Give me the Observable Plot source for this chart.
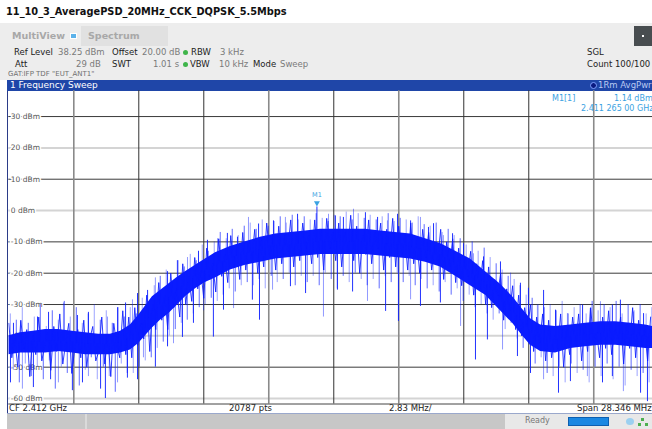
<!DOCTYPE html>
<html>
<head>
<meta charset="utf-8">
<script src="https://cdn.jsdelivr.net/npm/d3@7"></script>
<script src="https://cdn.jsdelivr.net/npm/@observablehq/plot@0.6"></script>
<style>
  html, body { margin: 0; padding: 0; width: 652px; height: 429px; overflow: hidden; background: #fff;
    font-family: "DejaVu Sans", Verdana, sans-serif; }
  .abs { position: absolute; white-space: nowrap; line-height: 1; }
  .lbl { color: #222; font-size: 8.5px; }
  .val { color: #7a7a7a; font-size: 8.5px; }
  .dot { position: absolute; width: 5px; height: 5px; border-radius: 50%; background: #3fb54a; }
  .mk { color: #3aa2e2; font-size: 8px; }
  .ft { color: #222; font-size: 8.5px; }
  #chart { position: absolute; left: 0; top: 0; z-index: 1; }
  .top { z-index: 2; }
</style>
</head>
<body>

<!-- title and instrument header -->
<div class="abs" style="left:6px;top:7px;font-weight:bold;font-size:9.8px;color:#111">11_10_3_AveragePSD_20MHz_CCK_DQPSK_5.5Mbps</div>
<div class="abs" style="left:0;top:23px;width:652px;height:57px;background:#ededed"></div>
<div class="abs" style="left:81px;top:26px;width:87px;height:20px;background:#e1e1e1"></div>
<div class="abs" style="left:12px;top:31px;font-weight:bold;font-size:9.5px;color:#a8a8a8">MultiView</div>
<div class="abs" style="left:70px;top:33px;width:5px;height:4px;background:#5cb2ea;border:1px solid #fff"></div>
<div class="abs" style="left:88px;top:31px;font-weight:bold;font-size:9.5px;color:#a8a8a8">Spectrum</div>
<div class="abs" style="left:634px;top:26px;width:18px;height:20px;background:#484d50"></div>
<div class="abs" style="left:642px;top:35px;width:2px;height:2px;background:#fff"></div>

<div class="abs lbl" style="left:14px;top:48px">Ref Level</div>
<div class="abs val" style="left:58px;top:48px">38.25 dBm</div>
<div class="abs lbl" style="left:112px;top:48px">Offset</div>
<div class="abs val" style="left:142px;top:48px">20.00 dB</div>
<div class="dot" style="left:183px;top:50px"></div>
<div class="abs lbl" style="left:191px;top:48px">RBW</div>
<div class="abs val" style="left:220px;top:48px">3 kHz</div>

<div class="abs lbl" style="left:15px;top:60px">Att</div>
<div class="abs val" style="left:76px;top:60px">29 dB</div>
<div class="abs lbl" style="left:112px;top:60px">SWT</div>
<div class="abs val" style="left:153px;top:60px">1.01 s</div>
<div class="dot" style="left:183px;top:62px"></div>
<div class="abs lbl" style="left:190px;top:60px">VBW</div>
<div class="abs val" style="left:219px;top:60px">10 kHz</div>
<div class="abs lbl" style="left:253px;top:60px">Mode</div>
<div class="abs val" style="left:280px;top:60px">Sweep</div>

<div class="abs" style="left:8px;top:71px;font-size:7px;color:#707070">GAT:IFP TDF "EUT_ANT1"</div>
<div class="abs lbl" style="left:587px;top:48px">SGL</div>
<div class="abs lbl" style="left:587px;top:60px">Count 100/100</div>

<!-- window title bar -->
<div class="abs" style="left:7px;top:80px;width:645px;height:11px;background:#1f46a8"></div>
<div class="abs" style="left:10px;top:81px;font-size:9px;color:#fff">1 Frequency Sweep</div>
<div class="abs" style="left:590px;top:82px;width:5px;height:5px;border-radius:50%;background:#0a1a80;border:1px solid #7fa0ff"></div>
<div class="abs" style="left:598px;top:81px;font-size:8.5px;color:#b9c9f2">1Rm AvgPwr</div>

<!-- marker readout -->
<div class="abs mk top" style="left:552px;top:95px">M1[1]</div>
<div class="abs mk top" style="left:614px;top:95px">1.14 dBm</div>
<div class="abs mk top" style="left:581px;top:105px">2.411 265 00 GHz</div>

<!-- plot frame edges and footer -->
<div class="abs" style="left:7px;top:91px;width:1px;height:322px;background:#2b3b88"></div>
<div class="abs" style="left:7px;top:413px;width:645px;height:1px;background:#9aa8cc"></div>
<div class="abs ft" style="left:9px;top:404px">CF 2.412 GHz</div>
<div class="abs ft" style="left:229px;top:404px">20787 pts</div>
<div class="abs ft" style="left:389px;top:404px">2.83 MHz/</div>
<div class="abs ft" style="left:577px;top:404px">Span 28.346 MHz</div>

<!-- status bar -->
<div class="abs" style="left:7px;top:414px;width:498px;height:15px;background:#c7c7c7"></div>
<div class="abs" style="left:85px;top:414px;width:2px;height:15px;background:#dadada"></div>
<div class="abs" style="left:505px;top:414px;width:147px;height:15px;background:#e8e8e8"></div>
<div class="abs" style="left:525px;top:417px;font-size:8px;color:#777">Ready</div>
<div class="abs" style="left:568px;top:417px;width:41px;height:9px;background:#1b88e2;border:1px solid #0d5fb0;box-sizing:border-box"></div>
<div class="abs" style="left:626px;top:418px;width:8px;height:7px;border-radius:50%;background:#9bd0f0"></div>
<div class="abs" style="left:641px;top:418px;width:3px;height:3px;background:#4caf50"></div>
<div class="abs" style="left:638px;top:423px;width:3px;height:3px;background:#4caf50"></div>
<div class="abs" style="left:645px;top:423px;width:3px;height:3px;background:#4caf50"></div>

<div id="chart"></div>

<script>
// Frequency axis: offset from CF 2.412 GHz in MHz, span 28.346 MHz, 2.83 MHz per division
const divisions = [-11.338, -8.504, -5.669, -2.835, 0, 2.835, 5.669, 8.504, 11.338];
// Level axis: dBm gridlines, reference level 38.25 dBm, 10 dB per division
const levels = [30, 20, 10, 0, -10, -20, -30, -40, -50, -60];

// Solid part of the averaged trace: upper and lower edge (dBm) at each frequency (MHz)
const envF  = [-14.17,-13.66,-13.10,-12.57,-12.00,-11.40,-10.83,-10.26,-9.74,-9.30,-8.87,-8.52,-8.21,-7.91,-7.56,-7.21,-6.86,-6.47,-6.03,-5.60,-5.16,-4.51,-3.85,-3.20,-2.54,-1.89,-1.23,-0.58,0.07,0.73,1.38,2.04,2.69,3.35,4.00,4.65,5.31,5.96,6.62,7.27,7.80,8.23,8.58,9.02,9.67,10.33,10.98,11.64,12.29,12.95,13.60,13.90];
const envHi = [-40,-39,-38.5,-38,-38,-38.5,-39,-39.5,-39.5,-38.5,-36.5,-33.5,-30.5,-27.5,-25.5,-23.5,-21.5,-19.5,-17.5,-15.5,-13.5,-11.5,-10,-8.5,-7.5,-7,-6.5,-6,-6,-6,-6,-6.5,-7,-7.5,-9,-10.5,-13,-15.5,-19.5,-23.5,-27.5,-31.5,-34.5,-36.5,-37,-36.5,-36,-35.5,-35.5,-36,-36.5,-37];
const envLo = [-46,-45.5,-45.5,-45.5,-45,-45.5,-46,-46,-46,-45.5,-44.5,-42.5,-40,-37.5,-35,-33,-30.5,-27.5,-25,-23,-21.5,-19,-17.5,-16.5,-15.5,-15,-14.5,-14,-14,-14,-14,-14.5,-15,-15.5,-16.5,-18,-21,-24,-27,-32,-36,-40,-43,-45,-45.5,-44,-43.5,-43,-43,-43.5,-44,-44];

// Trace samples (dBm) every 0.1308 MHz from the left edge of the display
const sampleStart = -14.173;
const sampleStep = 0.1308;
const samples = [
  -36,-47,-41,-50,-35,-44,-38,-53,-40,-46,
  -34,-48,-43,-39,-51,-37,-45,-33,-49,-42,
  -36,-52,-44,-38,-47,-35,-50,-41,-37,-48,
  -45,-34,-49,-40,-53,-36,-43,-47,-32,-46,
  -34,-47,-31,-43,-36,-41,-27,-45,-30,-38,
  -23,-35,-27,-38,-20,-31,-25,-34,-17,-30,
  -21,-29,-15,-25,-19,-28,-12,-22,-17,-26,
  -9,-21,-14,-23,-8,-18,-12,-22,-7,-19,
  -10,-16,-6,-20,-9,-18,-4,-15,-8,-19,
  -5,-17,-8,-13,-3,-18,-7,-16,-4,-12,
  -8,-17,-3,-15,-6,-19,-2.5,-12,-7,-16,
  -4,-18,-7,-13,-1.5,-16,-5,-20,-8,-14,
  -3,-17,-7,-12,-4,-19,-6,-15,-2.5,-18,
  -5,-14,-8,-19,-4,-17,-9,-20,-6,-15,
  -7,-19,-11,-16,-6,-22,-10,-18,-9,-23,
  -12,-24,-15,-21,-13,-27,-17,-25,-16,-30,
  -18,-31,-22,-27,-20,-35,-25,-32,-24,-38,
  -27,-40,-31,-37,-30,-45,-34,-42,-33,-48,
  -35,-47,-40,-44,-33,-50,-38,-46,-34,-43,
  -33,-48,-37,-45,-31,-42,-39,-47,-34,-44,
  -32,-46,-38,-41,-34,-49,-36,-44,-31,-47,
  -35,-43,-38,-48,-34
];
// Second pass of trace samples, half a step later
const samples2 = [
  -33,-51,-35,-55,-31,-49,-36,-53,-34,-50,
  -30,-54,-37,-48,-32,-57,-35,-50,-29,-52,
  -34,-49,-31,-56,-36,-51,-33,-47,-30,-54,
  -35,-50,-32,-53,-36,-58,-31,-49,-34,-52,
  -31,-52,-33,-50,-28,-48,-30,-47,-24,-44,
  -21,-42,-19,-40,-23,-38,-16,-36,-18,-35,
  -14,-33,-16,-31,-11,-30,-13,-28,-10,-29,
  -7,-27,-9,-25,-6,-26,-8,-24,-5,-23,
  -4,-24,-6,-22,-3,-25,-5,-21,-3.5,-23,
  -2,-22,-4,-20,-1.5,-24,-3,-21,-2,-23,
  -3,-21,-1,-24,-2.5,-20,-3.5,-22,-1.5,-25,
  -2,-21,-0.5,-23,-3,-20,-1,-22,-2.5,-24,
  -1.5,-22,-3,-25,-2,-21,-1,-23,-3.5,-20,
  -2.5,-23,-3,-21,-4,-24,-2,-22,-4.5,-25,
  -5,-24,-4,-26,-7,-23,-6,-27,-8,-25,
  -9,-29,-11,-27,-10,-31,-13,-30,-12,-33,
  -15,-35,-17,-33,-19,-38,-21,-36,-22,-41,
  -24,-44,-27,-43,-28,-49,-30,-47,-31,-52,
  -30,-53,-32,-50,-29,-55,-33,-49,-31,-52,
  -30,-51,-33,-55,-29,-50,-32,-53,-30,-49,
  -31,-54,-29,-50,-33,-56,-30,-51,-32,-53,
  -30,-52,-33,-55,-31
];

// Peaks rising above the dense trace (MHz, dBm); M1 sits on the highest one
const upF  = [-13.97,-13.66,-12.92,-12.44,-11.79,-11.18,-10.70,-9.87,-9.43,-9.08,-8.78,-8.56,-8.12,-7.78,-7.25,-6.82,-6.38,-5.90,-5.51,-5.07,-4.64,-4.20,-3.72,-3.28,-2.63,-2.11,-1.58,-0.735,-0.23,0.07,0.42,0.86,1.38,1.91,2.34,2.78,3.35,3.78,4.13,4.35,4.78,5.18,5.66,6.09,6.53,7.27,7.71,8.14,8.49,8.88,9.15,9.67,10.19,10.85,11.19,11.63,12.15,12.50,13.07,13.51];
const upDb = [-36,-35.5,-34,-32.5,-29.5,-33.5,-32.5,-34,-31,-29.5,-28.5,-26.5,-25.5,-21.5,-19.5,-16,-15,-13,-9.5,-9,-7.3,-8.5,-2.2,-4.3,-3.3,-2.2,-1.2,1.14,-1.2,-1.7,-2.2,0.4,-0.7,-2.2,-3.3,-1.2,-3.3,-2.2,-5.4,-4.2,-8,-7.4,-10.6,-13.8,-14.8,-16.4,-20,-23.2,-24.8,-30.2,-25.5,-31.8,-32.9,-30.2,-31.3,-29.1,-30.2,-28.6,-32.4,-32.9];

// Dips falling below the dense trace (MHz, dBm)
const dnF  = [-14.10,-13.58,-13.10,-12.35,-12.01,-11.40,-10.96,-10.70,-10.17,-9.96,-9.43,-9.00,-8.56,-8.30,-7.78,-7.25,-6.99,-6.60,-6.12,-5.68,-5.25,-4.81,-4.37,-3.55,-3.24,-2.67,-1.89,-1.23,-0.45,0.16,0.82,1.47,2.26,2.82,3.35,3.78,4.65,5.53,6.18,6.70,7.36,8.01,8.58,9.15,9.80,10.32,11.06,11.72,12.15,12.63,13.38,13.68];
const dnDb = [-55,-57,-56.5,-54,-55,-57.5,-55,-53,-57,-60,-55,-53.5,-54,-47,-50,-43.5,-42.5,-40.5,-36,-32,-40.4,-31.8,-31.3,-28.6,-35,-25.4,-24.3,-26.5,-34,-25.4,-26,-29,-32.2,-35.4,-28.5,-30.6,-29.5,-37,-47.7,-41.3,-44.5,-46.6,-52,-54,-58.3,-54.6,-53,-55,-53,-57.8,-58.3,-61];

// Marker M1
const markerF = -0.735;   // 2.411 265 00 GHz
const markerDb = 1.14;

const env = envF.map((f, i) => ({f, hi: envHi[i], lo: envLo[i]}));
const mid = d3.scaleLinear().domain(envF).range(envF.map((f, i) => (envHi[i] + envLo[i]) / 2)).clamp(true);
const sweep = samples.map((db, i) => ({f: sampleStart + i * sampleStep, db}));
const sweep2 = samples2.map((db, i) => {
  const f = sampleStart + (i + 0.5) * sampleStep;
  return {f, db, base: mid(f)};
});
const spikes = [
  ...upF.map((f, i) => ({f, tip: upDb[i], base: mid(f)})),
  ...dnF.map((f, i) => ({f, tip: dnDb[i], base: mid(f)}))
];

const softRows = new Set([20, 0, -40, -60]);
const softCols = new Set([-11.338, -2.835, 2.835, 11.338]);
const trace = "#0a1cff";

const chart = Plot.plot({
  width: 652,
  height: 429,
  marginTop: 90.2,
  marginBottom: 25.5,
  marginLeft: 8.3,
  marginRight: 0,
  x: {domain: [-14.173, 13.90], axis: null},
  y: {domain: [-61.75, 38.25], axis: null},
  style: {background: "transparent", fontFamily: "DejaVu Sans, sans-serif", overflow: "hidden"},
  marks: [
    Plot.ruleY(levels, {
      stroke: d => softRows.has(d) ? "#d4d4d4" : "#3a3a3a",
      strokeWidth: d => softRows.has(d) ? 2 : 1
    }),
    Plot.ruleX(divisions, {
      stroke: d => softCols.has(d) ? "#8a8a8a" : "#333333",
      strokeWidth: d => softCols.has(d) ? 1.6 : 1
    }),
    Plot.ruleY([-61.75], {stroke: "#444", strokeWidth: 1}),
    Plot.text(levels, {
      x: -14.173, y: d => d, text: d => `${d} dBm`,
      textAnchor: "start", dx: 2, fontSize: 7.5, fill: "#555",
      stroke: "white", strokeWidth: 3
    }),
    Plot.areaY(env, {
      x: "f", y1: "lo", y2: "hi", fill: trace, clip: true
    }),
    Plot.ruleX(sweep2, {
      x: "f", y1: "base", y2: "db", stroke: trace, strokeWidth: 1,
      strokeOpacity: (d, i) => (i % 4 < 2 ? 0.4 : 0.65), clip: true
    }),
    Plot.lineY(sweep, {
      x: "f", y: "db", stroke: trace, strokeWidth: 1, strokeOpacity: 0.85, clip: true
    }),
    Plot.ruleX(spikes, {
      x: "f", y1: "base", y2: "tip", stroke: trace, strokeWidth: 1,
      strokeOpacity: (d, i) => (i % 3 === 1 ? 0.45 : 0.9), clip: true
    }),
    Plot.dot([{f: markerF, db: markerDb}], {
      x: "f", y: "db", symbol: "triangle", rotate: 180, r: 2.2,
      fill: "#3aa2e2", stroke: "none", dy: -4
    }),
    Plot.text([{f: markerF, db: markerDb}], {
      x: "f", y: "db", text: () => "M1", dy: -12, fontSize: 6.5, fill: "#3aa2e2"
    })
  ]
});
document.getElementById("chart").append(chart);
</script>
</body>
</html>
